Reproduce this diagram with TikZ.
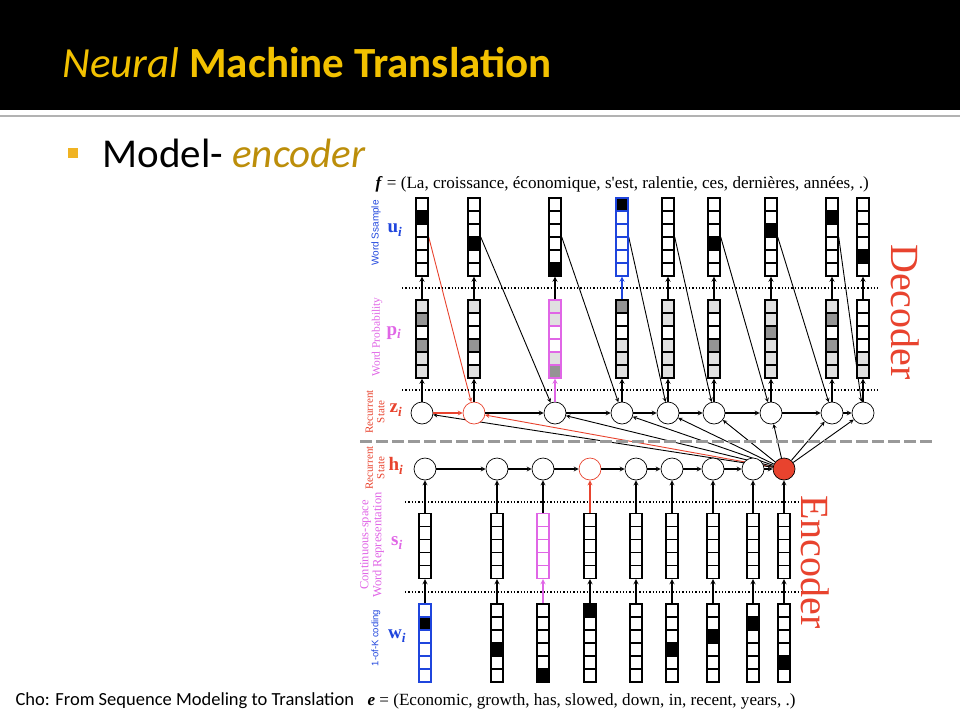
\documentclass[tikz,border=0pt]{standalone}
\usepackage{fontspec}
\setmainfont{Liberation Serif}
\newfontfamily\slidefont{Carlito}
\newfontfamily\labelsans{Liberation Sans}
\usepackage{xcolor}
\definecolor{slideGold}{HTML}{F2C100}
\definecolor{slideBrown}{HTML}{BC8E0A}
\definecolor{slideBullet}{HTML}{F0B323}
\definecolor{wordBlue}{HTML}{1F45DD}
\definecolor{wordViolet}{HTML}{E066E6}
\definecolor{stateRed}{HTML}{E8432E}
% cell shades of the word vectors
\colorlet{o}{white}
\colorlet{x}{black}
\colorlet{l}{black!12}
\colorlet{d}{black!42}
\usepackage{tikz}
\usetikzlibrary{%
    arrows,
    positioning,
    backgrounds,
    shapes.multipart
}

\begin{document}
\begin{tikzpicture}[x=1pt, y=-1pt, >=stealth,
                vec/.style={rectangle split, rectangle split parts=#1, rectangle split ignore empty parts=false, rectangle split empty part height=11.6pt, rectangle split empty part depth=0pt, rectangle split empty part width=0pt, minimum width=12pt, inner sep=0pt, line width=1.4pt, draw},
                state/.style={circle, minimum size=22pt, inner sep=0pt, fill=white, line width=0.7pt, draw},
                flow/.style={draw, ->, line width=1.2pt},
                link/.style={draw, ->, line width=0.9pt},
                divider/.style={draw, dotted, line width=1.3pt},
                side/.style={rotate=90, align=center, font=\fontsize{11}{11.5}\selectfont},
                sym/.style={font=\fontsize{19}{19}\selectfont\bfseries}
            ]
            \useasboundingbox (0,0) rectangle (960,720);

            % slide frame
            \fill [black] (0,0) rectangle (960,110);
            \draw [black!30, line width=2pt] (0,116) -- (960,116);
            \node (title) at (59,77) [anchor=base west, text=slideGold, font=\slidefont\fontsize{43}{50}\selectfont] {\textit{Neural} \textbf{Machine Translation}};
            \node (bullet) at (73,153) [fill=slideBullet, minimum size=10pt, inner sep=0pt] {};
            \node (subtitle) at (99,167) [anchor=base west, font=\slidefont\fontsize{41}{46}\selectfont] {Model- \textit{\color{slideBrown}encoder}};
            \node (credit) at (12,705) [anchor=base west, font=\slidefont\fontsize{18.5}{20}\selectfont] {Cho: From Sequence Modeling to Translation};

            % sentences
            \node (ftext) at (372,188) [anchor=base west, font=\fontsize{17.1}{19}\selectfont] {\textbf{\textit{f}} = (La, croissance, économique, s\textquotesingle est, ralentie, ces, dernières, années, .)};
            \node (etext) at (364,705) [anchor=base west, font=\fontsize{17.1}{19}\selectfont] {\textbf{\textit{e}} = (Economic, growth, has, slowed, down, in, recent, years, .)};

            % separators
            \draw [divider] (402,288) -- (878,288);
            \draw [divider] (402,390) -- (878,390);
            \draw [divider] (405,502) -- (803,502);
            \draw [divider] (405,592) -- (803,592);
            \draw [black!40, line width=3pt, dash pattern=on 12pt off 4pt] (360,441) -- (932,441);

            % decoder columns
            \foreach \i/\cx/\ufill/\pfill/\ucol/\pcol/\zcol in {
                1/422/{o,x,o,o,o,o}/{l,d,o,d,l,l}/black/black/black,
                2/474/{o,o,o,x,o,o}/{l,o,o,d,o,l}/black/black/stateRed,
                3/555/{o,o,o,o,o,x}/{l,l,o,o,l,d}/black/wordViolet/black,
                4/622/{x,o,o,o,o,o}/{d,o,o,l,l,l}/wordBlue/black/black,
                5/668/{o,o,o,o,o,o}/{l,l,o,l,l,l}/black/black/black,
                6/714/{o,o,o,x,o,o}/{l,o,o,d,l,l}/black/black/black,
                7/771/{o,o,x,o,o,o}/{l,l,d,l,l,l}/black/black/black,
                8/832/{o,x,o,o,o,o}/{l,d,o,d,l,l}/black/black/black,
                9/863/{o,o,o,o,x,o}/{o,o,o,o,l,l}/black/black/black}{
                \node (u\i) at (\cx,237) [vec=6, draw=\ucol, rectangle split part fill/.expanded=\ufill] {};
                \node (p\i) at (\cx,339) [vec=6, draw=\pcol, rectangle split part fill/.expanded=\pfill] {};
                \node (z\i) at (\cx,413) [state, draw=\zcol] {};
                \draw [flow, \pcol] (z\i) -- (p\i);
                \draw [flow, \ucol] (p\i) -- (u\i);
            }

            % encoder columns
            \foreach \i/\cx/\wfill/\wcol/\scol/\hcol/\hin in {
                1/425/{o,x,o,o,o,o}/wordBlue/black/black/white,
                2/497/{o,o,o,x,o,o}/black/black/black/white,
                3/543/{o,o,o,o,o,x}/black/wordViolet/black/white,
                4/590/{x,o,o,o,o,o}/black/black/stateRed/white,
                5/636/{o,o,o,o,o,o}/black/black/black/white,
                6/672/{o,o,o,x,o,o}/black/black/black/white,
                7/713/{o,o,x,o,o,o}/black/black/black/white,
                8/753/{o,x,o,o,o,o}/black/black/black/white,
                9/784/{o,o,o,o,x,o}/black/black/black/stateRed}{
                \node (w\i) at (\cx,643) [vec=6, draw=\wcol, rectangle split part fill/.expanded=\wfill] {};
                \node (s\i) at (\cx,546) [vec=5, draw=\scol] {};
                \node (h\i) at (\cx,469) [state, draw=\hcol, fill=\hin] {};
                \draw [flow, \scol] (w\i) -- (s\i);
                \draw [flow, \hcol] (s\i) -- (h\i);
            }

            % recurrences
            \draw [flow, stateRed] (z1) -- (z2);
            \foreach \a [count=\b from 3] in {2,...,8}
                \draw [flow] (z\a) -- (z\b);
            \foreach \a [count=\b from 2] in {1,...,8}
                \draw [flow] (h\a) -- (h\b);

            \begin{scope}[on background layer]
                \draw [link, stateRed] (u1.east) -- (z2);
                \foreach \a [count=\b from 3] in {2,...,8}
                    \draw [link] (u\a.east) -- (z\b);
                \draw [link, stateRed] (h9) -- (z2);
                \foreach \b in {1,3,4,5,6,7,8,9}
                    \draw [link] (h9) -- (z\b);
            \end{scope}

            % row labels
            \node (uLbl) at (376,233) [side, text=wordBlue, font=\labelsans\fontsize{10}{11}\selectfont] {Word Ssample};
            \node (uSym) at (395,230) [sym, text=wordBlue] {u\textsubscript{\textit{i}}};
            \node (pLbl) at (377,337) [side, text=wordViolet, font=\fontsize{11.5}{12}\selectfont] {Word Probability};
            \node (pSym) at (394,333) [sym, text=wordViolet] {p\textsubscript{\textit{i}}};
            \node (zLbl) at (375,412) [side, text=stateRed] {Recurrent\\State};
            \node (zSym) at (396,410) [sym, text=stateRed] {z\textsubscript{\textit{i}}};
            \node (hLbl) at (375,468) [side, text=stateRed] {Recurrent\\State};
            \node (hSym) at (396,466) [sym, text=stateRed] {h\textsubscript{\textit{i}}};
            \node (sLbl) at (372,545) [side, text=wordViolet, font=\fontsize{12.5}{13}\selectfont] {Continuous-space\\Word Representation};
            \node (sSym) at (397,543) [sym, text=wordViolet] {s\textsubscript{\textit{i}}};
            \node (wLbl) at (376,638) [side, text=wordBlue, font=\labelsans\fontsize{9.5}{10}\selectfont] {1-of-K coding};
            \node (wSym) at (397,636) [sym, text=wordBlue] {w\textsubscript{\textit{i}}};

            \node (decLbl) at (905,312) [rotate=-90, text=stateRed, font=\fontsize{40}{40}\selectfont] {Decoder};
            \node (encLbl) at (815,562) [rotate=-90, text=stateRed, font=\fontsize{40}{40}\selectfont] {Encoder};
        \end{tikzpicture}
\end{document}
